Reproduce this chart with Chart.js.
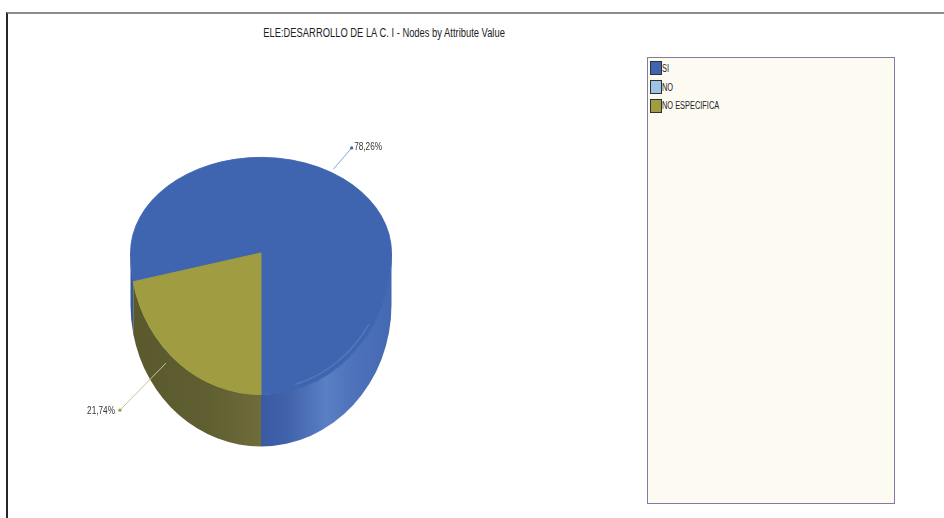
<!DOCTYPE html>
<html lang="es">
<head>
  <meta charset="UTF-8" />
  <title>ELE:DESARROLLO DE LA C. I</title>
  <script src="https://cdn.jsdelivr.net/npm/chart.js"></script>
  <style>
    body {
      margin: 0;
      width: 944px;
      height: 518px;
      overflow: hidden;
      position: relative;
      background: #fff;
      font-family: "Liberation Sans", Arial, sans-serif;
    }
    .frame {
      position: absolute;
      left: 6px; top: 12px; right: 0; bottom: 0;
      border-top: 2px solid #8c8c8c;
      border-left: 2px solid #262626;
    }
    .title {
      position: absolute;
      left: 0; width: 769px; top: 26px;
      text-align: center;
      font-size: 12.5px;
      color: #1e1e1e;
    }
    .title span { display: inline-block; transform: scaleX(0.75); white-space: nowrap; }
    #pieChart { position: absolute; left: 0; top: 0; }
    .legend {
      position: absolute;
      left: 647px; top: 57px;
      width: 246px; height: 444px;
      padding-top: 1px;
      box-sizing: content-box;
      border: 1px solid #7f7ca3;
      background: #fdfaf2;
    }
    .legend-item {
      display: flex;
      align-items: center;
      height: 18.7px;
      font-size: 10px;
      color: #222;
    }
    .legend-item i {
      display: inline-block;
      width: 10px; height: 12px;
      border: 1px solid #303030;
      margin: 0 0 0 2px;
    }
    .legend-item span {
      display: inline-block;
      transform: scaleX(0.74);
      transform-origin: left center;
      white-space: nowrap;
    }
  </style>
</head>
<body>
  <div class="frame"></div>
  <div class="title"><span>ELE:DESARROLLO DE LA C. I - Nodes by Attribute Value</span></div>
  <canvas id="pieChart" width="944" height="518"></canvas>
  <div class="legend" id="legend"></div>

  <script>
    const labels = ['SI', 'NO', 'NO ESPECIFICA'];
    const percents = [78.26, 0, 21.74];

    const faceColors = ['#3f65b0', '#9dc3e6', '#9f9c41'];
    const leaderColors = ['#8fa3cf', '#a9c8e6', '#cbc49a'];
    // side wall shading, stops run across the pie from left (0) to right (1)
    const sideShades = [
      [[0, '#36579f'], [0.5, '#3a5ba4'], [0.6, '#4062aa'], [0.75, '#5a7fc4'], [0.84, '#4f74bc'], [1, '#4468b1']],
      [[0, '#7d9cb8'], [1, '#8fb0cc']],
      [[0, '#5a592e'], [0.3, '#605f31'], [0.5, '#6f6c3a'], [1, '#72703c']]
    ];

    const BACK_TILT = 96 / 131;   // far half of the top face
    const FRONT_TILT = 142 / 131; // near half, stretched by perspective
    const DEPTH = 52;
    const PERSP = 0.197;
    const LABEL_SQUEEZE = 0.82;

    const total = percents.reduce((a, b) => a + b, 0);

    function fmtPct(v) {
      return (v / total * 100).toFixed(2).replace('.', ',') + '%';
    }

    const pie3d = {
      id: 'pie3d',
      beforeDatasetsDraw(chart) {
        const ctx = chart.ctx;
        const arcs = chart.getDatasetMeta(0).data;
        const cx = arcs[0].x, cy = arcs[0].y, r = arcs[0].outerRadius;
        const ryFront = r * FRONT_TILT;

        // side walls, only the near half is visible
        arcs.forEach((arc, i) => {
          if (arc.endAngle - arc.startAngle <= 0) return;
          const grad = ctx.createLinearGradient(cx - r, 0, cx + r, 0);
          sideShades[i].forEach(([p, c]) => grad.addColorStop(p, c));
          for (let k = -2; k <= 2; k++) {
            const lo = Math.max(arc.startAngle, k * 2 * Math.PI);
            const hi = Math.min(arc.endAngle, k * 2 * Math.PI + Math.PI);
            if (hi <= lo) continue;
            ctx.beginPath();
            ctx.ellipse(cx, cy, r, ryFront, 0, lo, hi, false);
            ctx.ellipse(cx, cy + DEPTH, r, ryFront, 0, hi, lo, true);
            ctx.closePath();
            ctx.fillStyle = grad;
            ctx.fill();
          }
        });

        // top face: far and near halves squashed separately
        const halves = [
          { y0: 0, y1: cy + 0.5, k: BACK_TILT },
          { y0: cy, y1: chart.height, k: FRONT_TILT }
        ];
        halves.forEach(h => {
          ctx.save();
          ctx.beginPath();
          ctx.rect(0, h.y0, chart.width, h.y1 - h.y0);
          ctx.clip();
          ctx.translate(cx, cy);
          ctx.scale(1, h.k);
          ctx.translate(-cx, -cy);
          arcs.forEach(a => a.draw(ctx));
          ctx.restore();
        });

        // faint sheen along the near-right edge
        ctx.save();
        ctx.beginPath();
        ctx.ellipse(cx, cy, r - 4, ryFront - 5, 0, 0.55, 1.3);
        ctx.strokeStyle = 'rgba(255,255,255,0.12)';
        ctx.lineWidth = 1.5;
        ctx.stroke();
        ctx.restore();
        return false;
      },
      afterDraw(chart) {
        const ctx = chart.ctx;
        const arcs = chart.getDatasetMeta(0).data;
        const cx = arcs[0].x, cy = arcs[0].y, r = arcs[0].outerRadius;

        arcs.forEach((arc, i) => {
          if (!percents[i]) return;
          const mid = (arc.startAngle + arc.endAngle) / 2;
          const c = Math.cos(mid), s = Math.sin(mid);
          const near = s > 0;
          const ry = r * (near ? FRONT_TILT : BACK_TILT);
          let ax = cx + r * c * (1 + PERSP * s);
          const u = (ax - cx) / r;
          let ay = cy + Math.sign(s) * ry * Math.sqrt(Math.max(0, 1 - u * u));
          const dl = Math.hypot(ax - cx, ay - cy);
          const dx = (ax - cx) / dl, dy = (ay - cy) / dl;
          if (near) {
            ay += DEPTH / 4;
          } else {
            ax += dx * 4; ay += dy * 4;
          }
          const len = near ? 28 + DEPTH * 0.73 : 28;
          const ex = ax + dx * len, ey = ay + dy * len;

          ctx.save();
          ctx.strokeStyle = leaderColors[i];
          ctx.lineWidth = 1;
          ctx.beginPath();
          ctx.moveTo(ax, ay);
          ctx.lineTo(ex, ey);
          ctx.stroke();
          ctx.fillStyle = faceColors[i];
          ctx.beginPath();
          ctx.arc(ex, ey, 1.6, 0, Math.PI * 2);
          ctx.fill();

          ctx.font = '10px "Liberation Sans", Arial, sans-serif';
          ctx.fillStyle = '#333';
          ctx.textBaseline = 'middle';
          const text = fmtPct(percents[i]);
          if (dx >= 0) {
            ctx.translate(ex + 2.5, ey - 1);
            ctx.scale(LABEL_SQUEEZE, 1);
            ctx.textAlign = 'left';
          } else {
            ctx.translate(ex - 5, ey + 1);
            ctx.scale(LABEL_SQUEEZE, 1);
            ctx.textAlign = 'right';
          }
          ctx.fillText(text, 0, 0);
          ctx.restore();
        });
      }
    };

    const chart = new Chart(document.getElementById('pieChart'), {
      type: 'pie',
      data: {
        labels: labels,
        datasets: [{
          data: percents,
          backgroundColor: faceColors,
          borderColor: faceColors,
          borderWidth: 1
        }]
      },
      options: {
        responsive: false,
        animation: false,
        devicePixelRatio: 1,
        events: [],
        rotation: 180 - 360 * percents[0] / total,
        layout: { padding: { left: 130, right: 552, top: 122, bottom: 134 } },
        plugins: {
          legend: { display: false },
          title: { display: false },
          tooltip: { enabled: false }
        }
      },
      plugins: [pie3d]
    });

    // legend box on the right
    const legendEl = document.getElementById('legend');
    labels.forEach((name, i) => {
      const row = document.createElement('div');
      row.className = 'legend-item';
      const sw = document.createElement('i');
      sw.style.background = faceColors[i];
      const txt = document.createElement('span');
      txt.textContent = name;
      row.appendChild(sw);
      row.appendChild(txt);
      legendEl.appendChild(row);
    });
  </script>
</body>
</html>
